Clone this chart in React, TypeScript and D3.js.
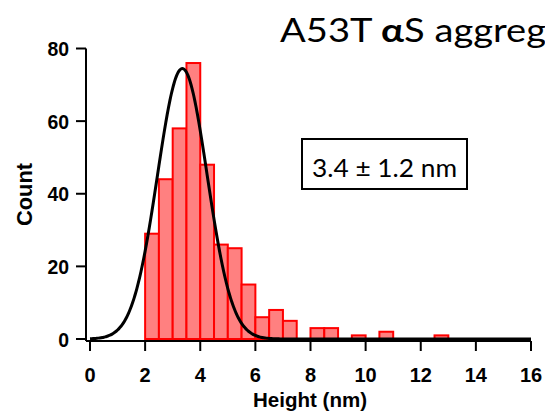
import React from "react";
import * as d3 from "d3";

// histogram bins (left edges, nm) and counts
const binStarts = d3.range(0, 16, 0.5);
const counts = [
  0, 0, 0, 0, 29, 44, 58, 76, 48, 26, 25, 15, 6, 8, 5, 0,
  3, 3, 0, 1, 0, 2, 0, 0, 0, 1, 0, 0, 0, 0, 0, 0,
];
const binWidth = 0.5;
const xTicks = [0, 2, 4, 6, 8, 10, 12, 14, 16];
const yTicks = [0, 20, 40, 60, 80];

// gaussian fit drawn over the histogram
const fitMean = 3.35;
const fitSigma = 0.9;
const fitAmp = 74.5;

const W = 545;
const H = 412;

export default function App() {
  const x = d3.scaleLinear().domain([0, 16]).range([90, 531]);
  const y = d3.scaleLinear().domain([0, 80]).range([339, 48.5]);

  const fit = d3.range(0, 16.001, 0.05).map((v) => [
    v,
    fitAmp * Math.exp(-((v - fitMean) ** 2) / (2 * fitSigma ** 2)),
  ]);
  const line = d3
    .line<number[]>()
    .x((d) => x(d[0]))
    .y((d) => y(d[1]))
    .curve(d3.curveBasis);

  const axisY = 341;
  const axisX = 86;
  const tickFont = {
    fontFamily: "'Liberation Sans', Arial, sans-serif",
    fontWeight: 700,
    fontSize: 20,
  } as const;

  return (
    <svg
      width={W}
      height={H}
      style={{ position: "absolute", left: 0, top: 0, background: "#fff" }}
    >
      {/* bars */}
      <g>
        {binStarts.map((b, i) => (
          <rect
            key={i}
            x={x(b)}
            y={y(counts[i])}
            width={x(b + binWidth) - x(b)}
            height={y(0) - y(counts[i])}
            fill="#ff8080"
            stroke="#ff0000"
            strokeWidth={2}
          />
        ))}
      </g>

      {/* fit */}
      <path d={line(fit) || ""} fill="none" stroke="#000" strokeWidth={3} />

      {/* y axis */}
      <line x1={axisX} x2={axisX} y1={y(80)} y2={axisY} stroke="#000" strokeWidth={2} />
      {yTicks.map((t) => (
        <g key={t}>
          <line x1={axisX - 10} x2={axisX} y1={y(t)} y2={y(t)} stroke="#000" strokeWidth={2} />
          <text
            x={axisX - 17}
            y={y(t) + 7.5}
            textAnchor="end"
            textLength={t === 0 ? 10.8 : 21.6}
            lengthAdjust="spacingAndGlyphs"
            {...tickFont}
          >
            {t}
          </text>
        </g>
      ))}

      {/* x axis */}
      <line x1={axisX} x2={x(16)} y1={axisY} y2={axisY} stroke="#000" strokeWidth={2} />
      {xTicks.map((t) => (
        <g key={t}>
          <line x1={x(t)} x2={x(t)} y1={axisY} y2={axisY + 10} stroke="#000" strokeWidth={2} />
          <text x={x(t)} y={381.5} textAnchor="middle" {...tickFont}>
            {t}
          </text>
        </g>
      ))}

      <text
        x={310}
        y={407}
        textAnchor="middle"
        textLength={114}
        lengthAdjust="spacingAndGlyphs"
        {...tickFont}
        fontSize={21}
      >
        Height (nm)
      </text>
      <text
        transform={`translate(32, 194.5) rotate(-90)`}
        textAnchor="middle"
        textLength={63}
        lengthAdjust="spacingAndGlyphs"
        {...tickFont}
        fontSize={22}
      >
        Count
      </text>

      {/* title, cut off at the right edge like the source */}
      <text
        x={280}
        y={42}
        fontFamily="Lato, sans-serif"
        fontSize={33}
        textLength={266}
        lengthAdjust="spacingAndGlyphs"
      >
        A53T <tspan fontWeight={700}>α</tspan>S aggreg
      </text>

      {/* annotation box */}
      <rect x={302} y={139} width={165} height={50} fill="#fff" stroke="#000" strokeWidth={2} />
      <text
        x={312}
        y={177}
        fontFamily="Lato, sans-serif"
        fontSize={25}
        textLength={145}
        lengthAdjust="spacingAndGlyphs"
      >
        3.4 ± 1.2 nm
      </text>
    </svg>
  );
}
